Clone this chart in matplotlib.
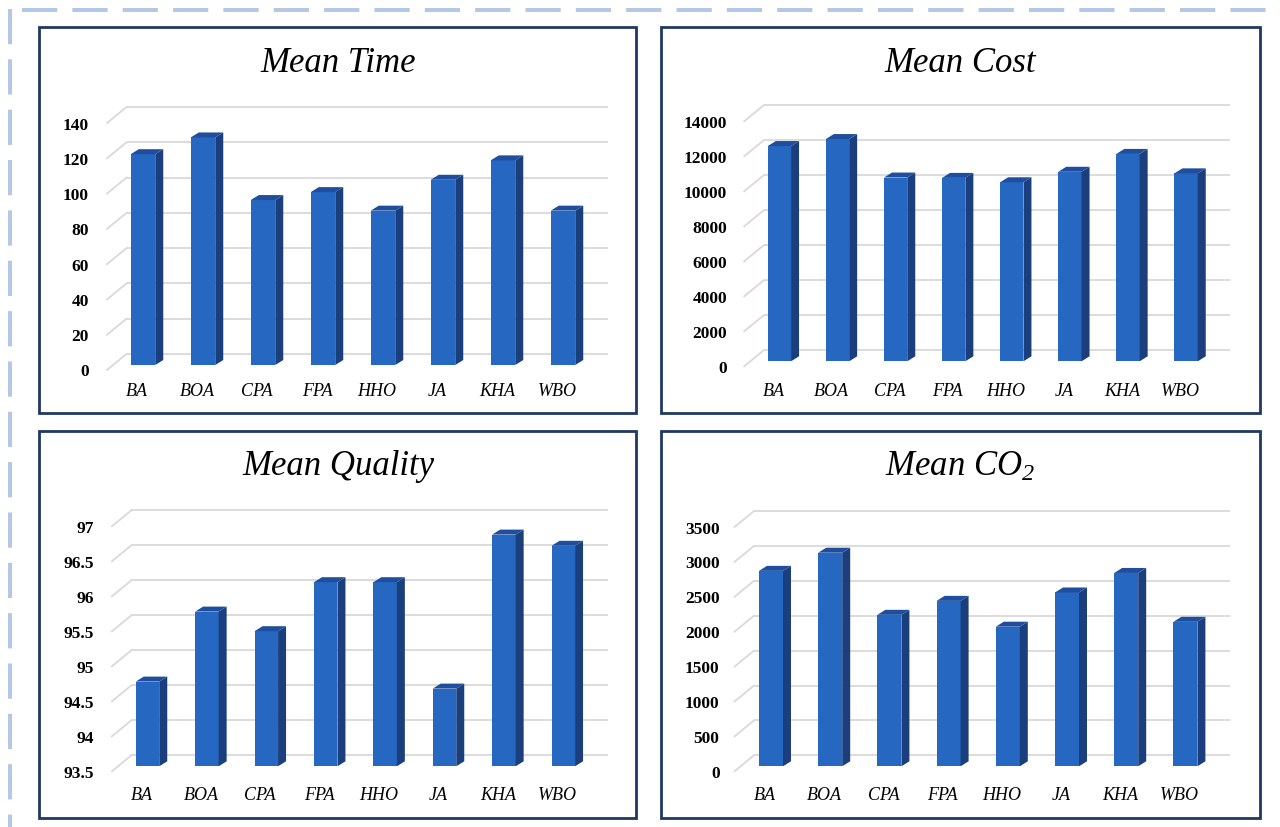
import matplotlib
matplotlib.use('Agg')
import numpy as np
import matplotlib.pyplot as plt
import matplotlib.transforms as mtransforms
from matplotlib.patches import Polygon, Rectangle
from matplotlib.lines import Line2D

# algorithms compared in every panel
algorithms = ['BA', 'BOA', 'CPA', 'FPA', 'HHO', 'JA', 'KHA', 'WBO']

mean_time = [119.5, 129, 93.5, 98, 87.5, 105, 116, 87.5]
mean_cost = [12300, 12700, 10500, 10480, 10230, 10830, 11850, 10740]
mean_quality = [94.71, 95.71, 95.43, 96.13, 96.13, 94.61, 96.81, 96.65]
mean_co2 = [2800, 3060, 2170, 2370, 2000, 2490, 2770, 2070]

time_ticks = [0, 20, 40, 60, 80, 100, 120, 140]
cost_ticks = [0, 2000, 4000, 6000, 8000, 10000, 12000, 14000]
quality_ticks = [93.5, 94, 94.5, 95, 95.5, 96, 96.5, 97]
co2_ticks = [0, 500, 1000, 1500, 2000, 2500, 3000, 3500]

time_labels = [str(t) for t in time_ticks]
cost_labels = [str(t) for t in cost_ticks]
quality_labels = ['93.5', '94', '94.5', '95', '95.5', '96', '96.5', '97']
co2_labels = [str(t) for t in co2_ticks]

W, H = 1280, 828
FRONT = '#2567C1'
SIDE = '#1A3F7C'
TOP = '#1F4E9E'
GRID = '#D9D9D9'
NAVY = '#1F3864'
SERIF = 'Liberation Serif'

plt.rcParams['mathtext.fontset'] = 'custom'
plt.rcParams['mathtext.rm'] = SERIF
plt.rcParams['mathtext.it'] = SERIF + ':italic'

# panel layout in pixels (x from left, y from top)
panels = [
    dict(title='Mean Time', values=mean_time, ticks=time_ticks, labels=time_labels,
         box=(39, 28, 636, 414), title_xy=(338, 63),
         c0=143, step=60, bw=24.5, base=366, ppu=1.764,
         grid_x=(126.5, 608), lab_right=89, xlab_y=392),
    dict(title='Mean Cost', values=mean_cost, ticks=cost_ticks, labels=cost_labels,
         box=(661, 28, 1260, 414), title_xy=(960, 63),
         c0=779.4, step=58.1, bw=23.3, base=362.3, ppu=35 / 2000,
         grid_x=(763.7, 1230), lab_right=727, xlab_y=391.7),
    dict(title='Mean Quality', values=mean_quality, ticks=quality_ticks, labels=quality_labels,
         box=(39, 432, 636, 819), title_xy=(338, 467),
         c0=147.5, step=59.4, bw=23.5, base=767.3, ppu=70,
         grid_x=(131.4, 608), lab_right=94, xlab_y=796),
    dict(title='Mean CO$_\\mathregular{2}$', values=mean_co2, ticks=co2_ticks, labels=co2_labels,
         box=(661, 432, 1260, 819), title_xy=(960, 467),
         c0=771, step=59.2, bw=24, base=767.3, ppu=34.9 / 500,
         grid_x=(754, 1230), lab_right=719.6, xlab_y=796),
]

fig = plt.figure(figsize=(W / 100, H / 100), dpi=100)
fig.patch.set_facecolor('white')

# dashed frame around the whole figure (top and left edges)
dash = (0, (8.75, 3.75))
fig.add_artist(Line2D([22 / W, 1.0], [1 - 10.5 / H] * 2, transform=fig.transFigure,
                      color='#B4C7E7', lw=2.9, linestyle=dash, solid_capstyle='butt'))
fig.add_artist(Line2D([9.5 / W] * 2, [1 - 10 / H, 0], transform=fig.transFigure,
                      color='#B4C7E7', lw=2.9, linestyle=dash, solid_capstyle='butt'))

for p in panels:
    x0, y0, x1, y1 = p['box']
    fig.add_artist(Rectangle((x0 / W, 1 - y1 / H), (x1 - x0) / W, (y1 - y0) / H,
                             transform=fig.transFigure, fill=False,
                             edgecolor=NAVY, lw=2.0, zorder=5))
    tx, ty = p['title_xy']
    fig.text(tx / W, 1 - ty / H, p['title'], ha='center', va='center',
             fontsize=25, style='italic', family=SERIF, color='black')

    ticks = p['ticks']
    ymin, ymax = ticks[0], ticks[-1]
    base, ppu, c0, step = p['base'], p['ppu'], p['c0'], p['step']
    gx0_px, gx1_px = p['grid_x']
    left = gx0_px - 19.5
    right = gx1_px
    top = base - (ymax - ymin) * ppu - 25

    ax = fig.add_axes([left / W, 1 - base / H, (right - left) / W, (base - top) / H])
    ax.set_xlim((left - c0) / step, (right - c0) / step)
    ax.set_ylim(ymin, ymin + (base - top) / ppu)
    ax.set_facecolor('none')
    for s in ax.spines.values():
        s.set_visible(False)

    ux = 1 / step   # data units per pixel
    uy = 1 / ppu
    gx0 = (gx0_px - c0) / step
    gx1 = (gx1_px - c0) / step
    xl = (left - c0) / step

    # back wall gridlines and the side-wall diagonals
    for v in ticks:
        ax.plot([gx0, gx1], [v + 11 * uy] * 2, color=GRID, lw=1.3, zorder=1,
                clip_on=False, solid_capstyle='butt')
        ax.plot([xl, gx0], [v - 5 * uy, v + 11 * uy], color=GRID, lw=1.3, zorder=1,
                clip_on=False)

    x = np.arange(len(algorithms))
    vals = np.array(p['values'])
    w = p['bw'] / step
    ax.bar(x, vals - ymin, bottom=ymin, width=w, color=FRONT, linewidth=0, zorder=3)

    ddx, ddy = 8 * ux, 5 * uy
    for xi, v in zip(x, vals):
        xr, xlft = xi + w / 2, xi - w / 2
        ax.add_patch(Polygon([(xr, ymin), (xr + ddx, ymin + ddy), (xr + ddx, v + ddy), (xr, v)],
                             closed=True, facecolor=SIDE, edgecolor='none', zorder=3))
        ax.add_patch(Polygon([(xlft, v), (xlft + ddx, v + ddy), (xr + ddx, v + ddy), (xr, v)],
                             closed=True, facecolor=TOP, edgecolor='none', zorder=3))

    ax.set_yticks(ticks, p['labels'])
    ax.set_xticks(x, algorithms)
    ax.tick_params(axis='y', length=0, pad=(left - p['lab_right']) * 0.72)
    ax.tick_params(axis='x', length=0, pad=(p['xlab_y'] - base - 8.5) * 0.72)

    ydown = mtransforms.ScaledTranslation(0, -4.5 / 100, fig.dpi_scale_trans)
    xshift = mtransforms.ScaledTranslation(-6 / 100, 0, fig.dpi_scale_trans)
    for lbl in ax.get_yticklabels():
        lbl.set_transform(lbl.get_transform() + ydown)
        lbl.set_fontfamily(SERIF)
        lbl.set_fontweight('bold')
        lbl.set_fontsize(12.5)
    for lbl in ax.get_xticklabels():
        lbl.set_transform(lbl.get_transform() + xshift)
        lbl.set_fontfamily(SERIF)
        lbl.set_fontstyle('italic')
        lbl.set_fontsize(13)

fig.savefig('out.png', dpi=100, facecolor='white')
